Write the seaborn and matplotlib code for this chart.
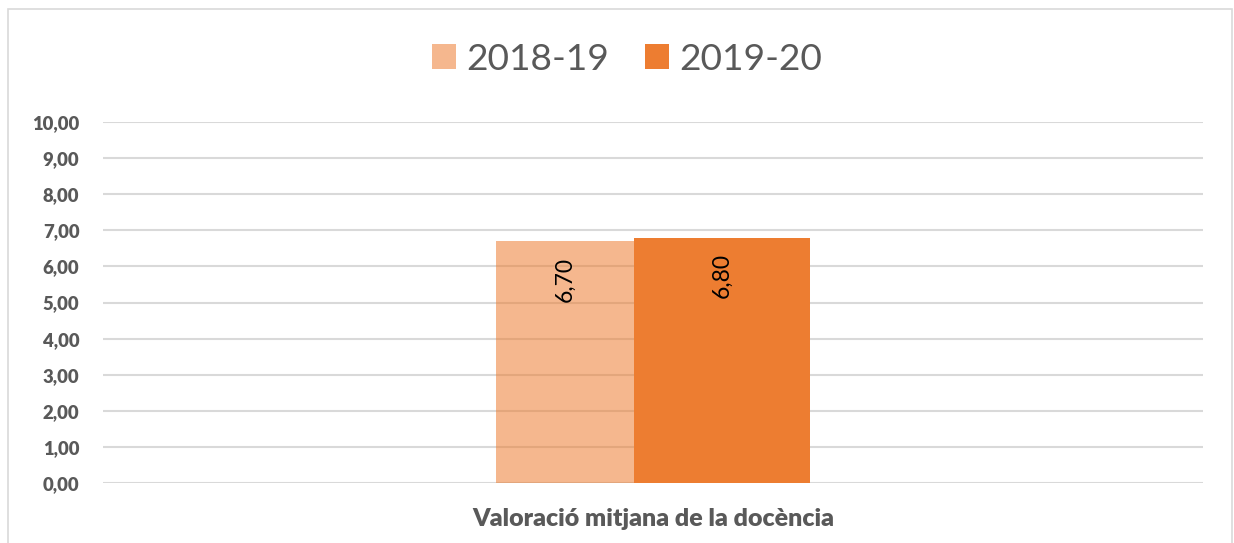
import matplotlib
matplotlib.use("Agg")
import matplotlib.pyplot as plt
import seaborn as sns
import pandas as pd
from matplotlib.patches import Rectangle

categories = ["Valoració mitjana de la docència"]
series = ["2018-19", "2019-20"]
values = [6.70, 6.80]
value_labels = ["6,70", "6,80"]
yticks = [0, 1, 2, 3, 4, 5, 6, 7, 8, 9, 10]
ytick_labels = ["0,00", "1,00", "2,00", "3,00", "4,00", "5,00", "6,00", "7,00", "8,00", "9,00", "10,00"]

df = pd.DataFrame({"cat": categories * len(series), "serie": series, "val": values})

sns.set_theme(style="white")
plt.rcParams["font.family"] = ["Lato", "DejaVu Sans"]

fig = plt.figure(figsize=(12.34, 5.43), dpi=100)
ax = fig.add_axes([103/1234, 1 - 483/543, 1100/1234, 361/543])

base = "#ED7D31"
palette = {"2018-19": base, "2019-20": base}
sns.barplot(data=df, x="cat", y="val", hue="serie", palette=palette, ax=ax,
            width=0.2855, dodge=True, legend=False, saturation=1)

ax.set_xlim(-0.5, 0.5)
ax.set_ylim(0, 10)
ax.set_axisbelow(True)

# adjust bars to match reference proportions
pxu = 1.0 / 1100
bars = sorted(ax.patches, key=lambda p: p.get_x())
x0 = (496 - 653) * pxu
widths = [138 * pxu, 176 * pxu]
alphas = [0.55, 1.0]
xs = [x0, x0 + widths[0]]
for p, xx, w, a in zip(bars, xs, widths, alphas):
    p.set_x(xx)
    p.set_width(w)
    p.set_alpha(a)
    p.set_edgecolor("none")
    p.set_linewidth(0)

for p, lab in zip(bars, value_labels):
    ax.text(p.get_x() + p.get_width() / 2, p.get_height() - 0.43, lab,
            rotation=90, ha="center", va="top", fontsize=16.5, color="black")

ax.set_yticks(yticks)
ax.set_yticklabels(ytick_labels, fontsize=13.3, fontweight="heavy", color="#595959")
ax.tick_params(axis="y", length=0, pad=17)
ax.tick_params(axis="x", length=0)
ax.set_xticks([])
ax.grid(axis="y", color="#D9D9D9", linewidth=1.5)
ax.grid(axis="x", visible=False)
for s in ax.spines.values():
    s.set_visible(False)
ax.set_ylabel("")
ax.set_xlabel(categories[0], fontsize=18, fontweight="heavy", color="#595959", labelpad=18)

# legend
handles = [Rectangle((0, 0), 1, 1, color=base, alpha=0.55, linewidth=0),
           Rectangle((0, 0), 1, 1, color=base, linewidth=0)]
fig.legend(handles, series, loc="center", bbox_to_anchor=(627/1234, 1 - 59/543), ncol=2,
           frameon=False, fontsize=26.7, handlelength=0.66, handleheight=0.66,
           handletextpad=0.28, columnspacing=0.95, labelcolor="#595959")

# chart border
fig.patches.append(Rectangle((8/1234, -0.05), (1232 - 8)/1234, 1.05 - 9/543,
                             transform=fig.transFigure, fill=False,
                             edgecolor="#D9D9D9", linewidth=1.2))

fig.savefig("out.png", dpi=100)
